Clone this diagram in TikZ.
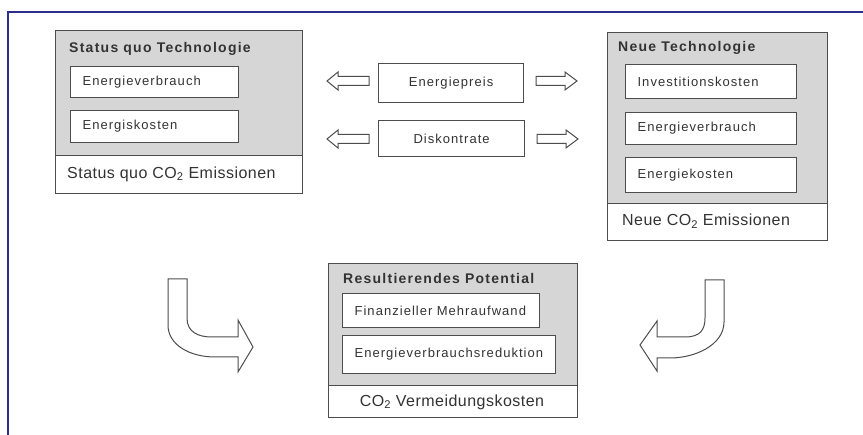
\documentclass[tikz,border=0pt]{standalone}
\usepackage{fontspec}
\setmainfont{Liberation Sans}
\newfontfamily\innerf{Liberation Sans}[LetterSpace=8]
\newfontfamily\titlef{Liberation Sans}[LetterSpace=9]
\newfontfamily\emf{Liberation Sans}[LetterSpace=3]
\definecolor{lc}{HTML}{4D4D4D}
\definecolor{gfill}{HTML}{D6D6D6}
\definecolor{txt}{HTML}{333333}
\definecolor{framec}{RGB}{45,45,140}
\begin{document}
\begin{tikzpicture}[x=1pt,y=-1pt,
  graybox/.style={draw=lc, fill=gfill, line width=1.2pt, anchor=north west, inner sep=0pt},
  whitebox/.style={draw=lc, fill=white, line width=1.2pt, anchor=north west, inner sep=0pt},
  ibox/.style={draw=lc, fill=white, line width=1.2pt, anchor=north west, inner xsep=12pt, inner ysep=0pt, align=left, text=txt, font=\innerf\fontsize{13}{15}\selectfont},
  mbox/.style={draw=lc, fill=white, line width=1.2pt, anchor=north west, inner sep=0pt, align=center, text=txt, font=\innerf\fontsize{13}{15}\selectfont},
  titletext/.style={anchor=west, inner sep=0pt, text=txt, font=\titlef\bfseries\fontsize{14}{16}\selectfont},
  emtext/.style={anchor=west, inner sep=0pt, text=txt, font=\emf\fontsize{16}{18}\selectfont},
  blk/.style={draw=lc, fill=white, line width=1pt, line join=miter},
  larrow/.pic={\draw[blk] (0,0) -- (11,-9) -- (11,-4.5) -- (42,-4.5) -- (42,4.5) -- (11,4.5) -- (11,9) -- cycle;},
  rarrow/.pic={\draw[blk] (0,-4.5) -- (29,-4.5) -- (29,-9) -- (41,0) -- (29,9) -- (29,4.5) -- (0,4.5) -- cycle;}
]
\useasboundingbox (0,0) rectangle (863,435);
\fill[white] (0,0) rectangle (863,435);
% frame
\draw[framec, line width=1.6pt] (8,436) -- (8,12) -- (864,12);

% Status quo box
\node[graybox, minimum width=247pt, minimum height=125pt] (sq) at (55,30) {};
\node[whitebox, minimum width=247pt, minimum height=38pt] (sqe) at (55,155) {};
\node[titletext] (sqt) at (69,49) {Status quo Technologie};
\node[ibox, text width=144pt, minimum height=31pt] (sq1) at (70,66) {Energieverbrauch};
\node[ibox, text width=144pt, minimum height=32pt] (sq2) at (70,110) {Energiskosten};
\node[emtext] (sqet) at (67,174) {Status quo CO\textsubscript{2} Emissionen};

% middle
\node[mbox, minimum width=145pt, minimum height=39pt] (ep) at (378,63) {Energiepreis};
\node[mbox, minimum width=146pt, minimum height=36pt] (dr) at (378,120) {Diskontrate};
\pic (la1) at (327,81) {larrow};
\pic (la2) at (327,139) {larrow};
\pic (ra1) at (536,81) {rarrow};
\pic (ra2) at (537,139) {rarrow};

% Neue Technologie box
\node[graybox, minimum width=220pt, minimum height=171pt] (nt) at (607,32) {};
\node[whitebox, minimum width=220pt, minimum height=37pt] (nte) at (607,203) {};
\node[titletext] (ntt) at (618,48) {Neue Technologie};
\node[ibox, text width=147pt, minimum height=34pt] (nt1) at (625,64) {Investitionskosten};
\node[ibox, text width=147pt, minimum height=32pt] (nt2) at (625,112) {Energieverbrauch};
\node[ibox, text width=147pt, minimum height=35pt] (nt3) at (625,157) {Energiekosten};
\node[emtext] (ntet) at (622,221) {Neue CO\textsubscript{2} Emissionen};

% Resultierendes Potential box
\node[graybox, minimum width=249pt, minimum height=122pt] (rp) at (328,263) {};
\node[whitebox, minimum width=249pt, minimum height=32pt] (rpe) at (328,385) {};
\node[titletext] (rpt) at (343,278) {Resultierendes Potential};
\node[ibox, text width=173pt, minimum height=34pt] (rp1) at (342,293) {Finanzieller Mehraufwand};
\node[ibox, text width=189pt, minimum height=38pt] (rp2) at (342,335) {Energieverbrauchsreduktion};
\node[emtext, anchor=center] (rpet) at (452,402) {CO\textsubscript{2} Vermeidungskosten};

% curved arrows
\draw[blk] (168,279) -- (168,325) .. controls (168,345) and (190,357) .. (215,357) -- (238,357) -- (238,372) -- (253,347) -- (238,320) -- (238,337) -- (212,337) .. controls (198,337) and (187,332) .. (187,318) -- (187,279) -- cycle;
\draw[blk] (724,280) -- (724,322) .. controls (724,345) and (695,358) .. (670,358) -- (657,358) -- (657,371) -- (640,345) -- (657,321) -- (657,337) -- (685,337) .. controls (700,337) and (705,330) .. (705,318) -- (705,280) -- cycle;
\end{tikzpicture}
\end{document}
